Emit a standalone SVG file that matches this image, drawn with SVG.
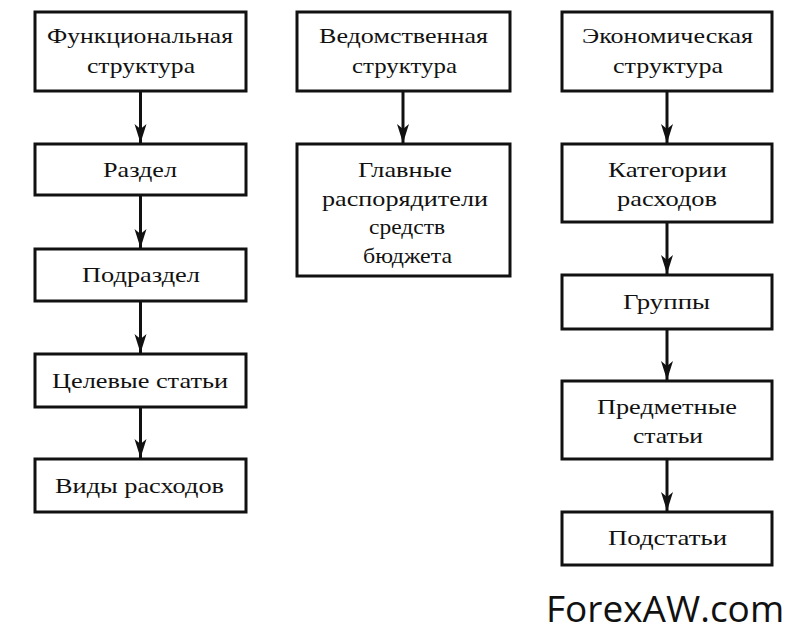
<svg xmlns="http://www.w3.org/2000/svg" width="795" height="641" viewBox="0 0 795 641">
<style>
.box{fill:#fff;stroke:#111;stroke-width:3}
.t{font-family:"Liberation Serif","Times New Roman","DejaVu Serif",serif;font-size:22px;fill:#111;text-anchor:middle}
.c{stroke:#111;stroke-width:3;fill:none}
.wm{font-family:"Open Sans","Noto Sans",sans-serif;font-size:37px;fill:#111}
</style>
<defs>
<marker id="ah" markerUnits="userSpaceOnUse" markerWidth="20" markerHeight="14" refX="19" refY="6" orient="auto">
<path d="M0,0 L19,6 L0,12 L5,6 Z" fill="#111"/>
</marker>
</defs>
<rect width="795" height="641" fill="#fff"/>
<g id="connectors">
<line class="c" x1="140.5" y1="91" x2="140.5" y2="143" marker-end="url(#ah)"/>
<line class="c" x1="140.5" y1="195" x2="140.5" y2="248" marker-end="url(#ah)"/>
<line class="c" x1="140.5" y1="301" x2="140.5" y2="353" marker-end="url(#ah)"/>
<line class="c" x1="140.5" y1="407" x2="140.5" y2="458" marker-end="url(#ah)"/>
<line class="c" x1="403" y1="91" x2="403" y2="143" marker-end="url(#ah)"/>
<line class="c" x1="667" y1="91" x2="667" y2="143" marker-end="url(#ah)"/>
<line class="c" x1="667" y1="222" x2="667" y2="274" marker-end="url(#ah)"/>
<line class="c" x1="667" y1="329" x2="667" y2="380" marker-end="url(#ah)"/>
<line class="c" x1="667" y1="459" x2="667" y2="511" marker-end="url(#ah)"/>
</g>
<g id="n-func">
<rect class="box" x="35" y="12" width="211" height="79"/>
<text class="t" x="140" y="43" textLength="186" lengthAdjust="spacingAndGlyphs">Функциональная</text>
<text class="t" x="141" y="73" textLength="108" lengthAdjust="spacingAndGlyphs">структура</text>
</g>
<g id="n-razdel">
<rect class="box" x="35" y="144" width="211" height="51"/>
<text class="t" x="140" y="177" textLength="74" lengthAdjust="spacingAndGlyphs">Раздел</text>
</g>
<g id="n-podrazdel">
<rect class="box" x="35" y="249" width="211" height="52"/>
<text class="t" x="141" y="282" textLength="118" lengthAdjust="spacingAndGlyphs">Подраздел</text>
</g>
<g id="n-celevye">
<rect class="box" x="35" y="354" width="211" height="53"/>
<text class="t" x="140" y="388" textLength="176" lengthAdjust="spacingAndGlyphs">Целевые статьи</text>
</g>
<g id="n-vidy">
<rect class="box" x="35" y="459" width="211" height="53"/>
<text class="t" x="139.5" y="493" textLength="169" lengthAdjust="spacingAndGlyphs">Виды расходов</text>
</g>
<g id="n-ved">
<rect class="box" x="297" y="12" width="213" height="79"/>
<text class="t" x="403.5" y="43" textLength="169" lengthAdjust="spacingAndGlyphs">Ведомственная</text>
<text class="t" x="404.5" y="73" textLength="105" lengthAdjust="spacingAndGlyphs">структура</text>
</g>
<g id="n-glavnye">
<rect class="box" x="297" y="144" width="213" height="132"/>
<text class="t" x="405" y="177" textLength="94" lengthAdjust="spacingAndGlyphs">Главные</text>
<text class="t" x="405" y="205.5" textLength="166" lengthAdjust="spacingAndGlyphs">распорядители</text>
<text class="t" x="407" y="234" textLength="76" lengthAdjust="spacingAndGlyphs">средств</text>
<text class="t" x="407.5" y="262.5" textLength="89" lengthAdjust="spacingAndGlyphs">бюджета</text>
</g>
<g id="n-econ">
<rect class="box" x="562" y="12" width="210" height="79"/>
<text class="t" x="667.5" y="43" textLength="171" lengthAdjust="spacingAndGlyphs">Экономическая</text>
<text class="t" x="668" y="73" textLength="110" lengthAdjust="spacingAndGlyphs">структура</text>
</g>
<g id="n-kateg">
<rect class="box" x="562" y="144" width="210" height="78"/>
<text class="t" x="667.5" y="177" textLength="119" lengthAdjust="spacingAndGlyphs">Категории</text>
<text class="t" x="667" y="206" textLength="100" lengthAdjust="spacingAndGlyphs">расходов</text>
</g>
<g id="n-gruppy">
<rect class="box" x="562" y="275" width="210" height="54"/>
<text class="t" x="666.5" y="309" textLength="87" lengthAdjust="spacingAndGlyphs">Группы</text>
</g>
<g id="n-predm">
<rect class="box" x="562" y="381" width="210" height="78"/>
<text class="t" x="667" y="414" textLength="140" lengthAdjust="spacingAndGlyphs">Предметные</text>
<text class="t" x="668" y="443" textLength="70" lengthAdjust="spacingAndGlyphs">статьи</text>
</g>
<g id="n-podst">
<rect class="box" x="562" y="512" width="210" height="53"/>
<text class="t" x="667.5" y="545" textLength="119" lengthAdjust="spacingAndGlyphs">Подстатьи</text>
</g>
<text class="wm" x="546" y="622">ForexAW.com</text>
</svg>
